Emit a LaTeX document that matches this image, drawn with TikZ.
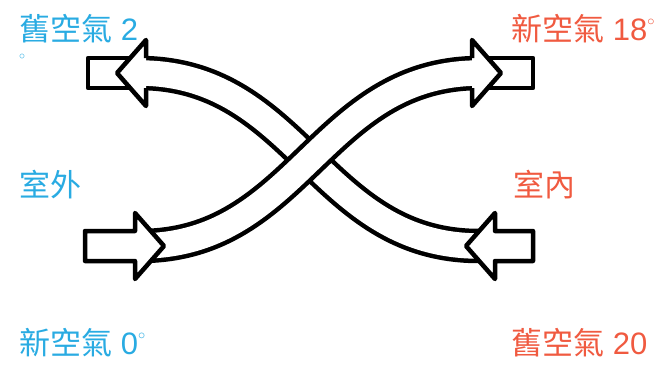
\documentclass[tikz,border=0pt]{standalone}
\usepackage{fontspec}
\setmainfont{Liberation Sans}
\newfontfamily\cjk{Noto Sans CJK TC}
\definecolor{coldblue}{RGB}{41,171,226}
\definecolor{warmred}{RGB}{240,90,64}
\newcommand{\degsign}{\raisebox{15pt}{\fontsize{14}{14}\selectfont$\circ$}}

\begin{document}
\begin{tikzpicture}[
    x=1pt, y=-1pt,
    line width=4.5pt,
    line join=round,
    band/.style={double=white, double distance=25.5pt, line width=4.5pt},
    airtext/.style={font=\fontsize{31}{37}\selectfont, inner sep=0pt, anchor=base west}
]
\useasboundingbox (0,0) rectangle (659,365);

% band ends
\coordinate (inL)  at (140,246);
\coordinate (outR) at (480,73);
\coordinate (inR)  at (479,246);
\coordinate (outL) at (139,73);

% old air (under)
\draw[band] (inR) .. controls +(-160,0) and +(160,0) .. (outL);
% new air (over)
\draw[band] (inL) .. controls +(160,0) and +(-160,0) .. (outR);

% entry arrows
\filldraw[fill=white] (135,231) -- (135,213) -- (164,246) -- (135,279) -- (135,261) -- (85,261) -- (85,231) -- cycle;
\filldraw[fill=white] (495,231) -- (495,213) -- (466,246) -- (495,279) -- (495,261) -- (533,261) -- (533,231) -- cycle;

% exit arrows
\filldraw[fill=white] (88,58) rectangle (135,88);
\fill[white] (146,40) -- (117,73) -- (146,106) -- cycle;
\draw (146,58) -- (146,40) -- (117,73) -- (146,106) -- (146,88);
\filldraw[fill=white] (482,58) rectangle (533,88);
\fill[white] (472,40) -- (501,73) -- (472,106) -- cycle;
\draw (472,58) -- (472,40) -- (501,73) -- (472,106) -- (472,88);

% labels
\node[airtext, text=coldblue] (oldout) at (17,40) {\rlap{\raisebox{-19pt}{\fontsize{12}{12}\selectfont$\circ$}}{\cjk 舊空氣} 2};
\node[airtext, text=warmred] (newin) at (509,40) {{\cjk 新空氣} 18\degsign};
\node[airtext, text=coldblue] (outside) at (17,196) {\cjk 室外};
\node[airtext, text=warmred] (inside) at (511,196) {\cjk 室內};
\node[airtext, text=coldblue] (newout) at (17,354) {{\cjk 新空氣} 0\degsign};
\node[airtext, text=warmred] (oldin) at (509,354) {{\cjk 舊空氣} 20};

\end{tikzpicture}
\end{document}
